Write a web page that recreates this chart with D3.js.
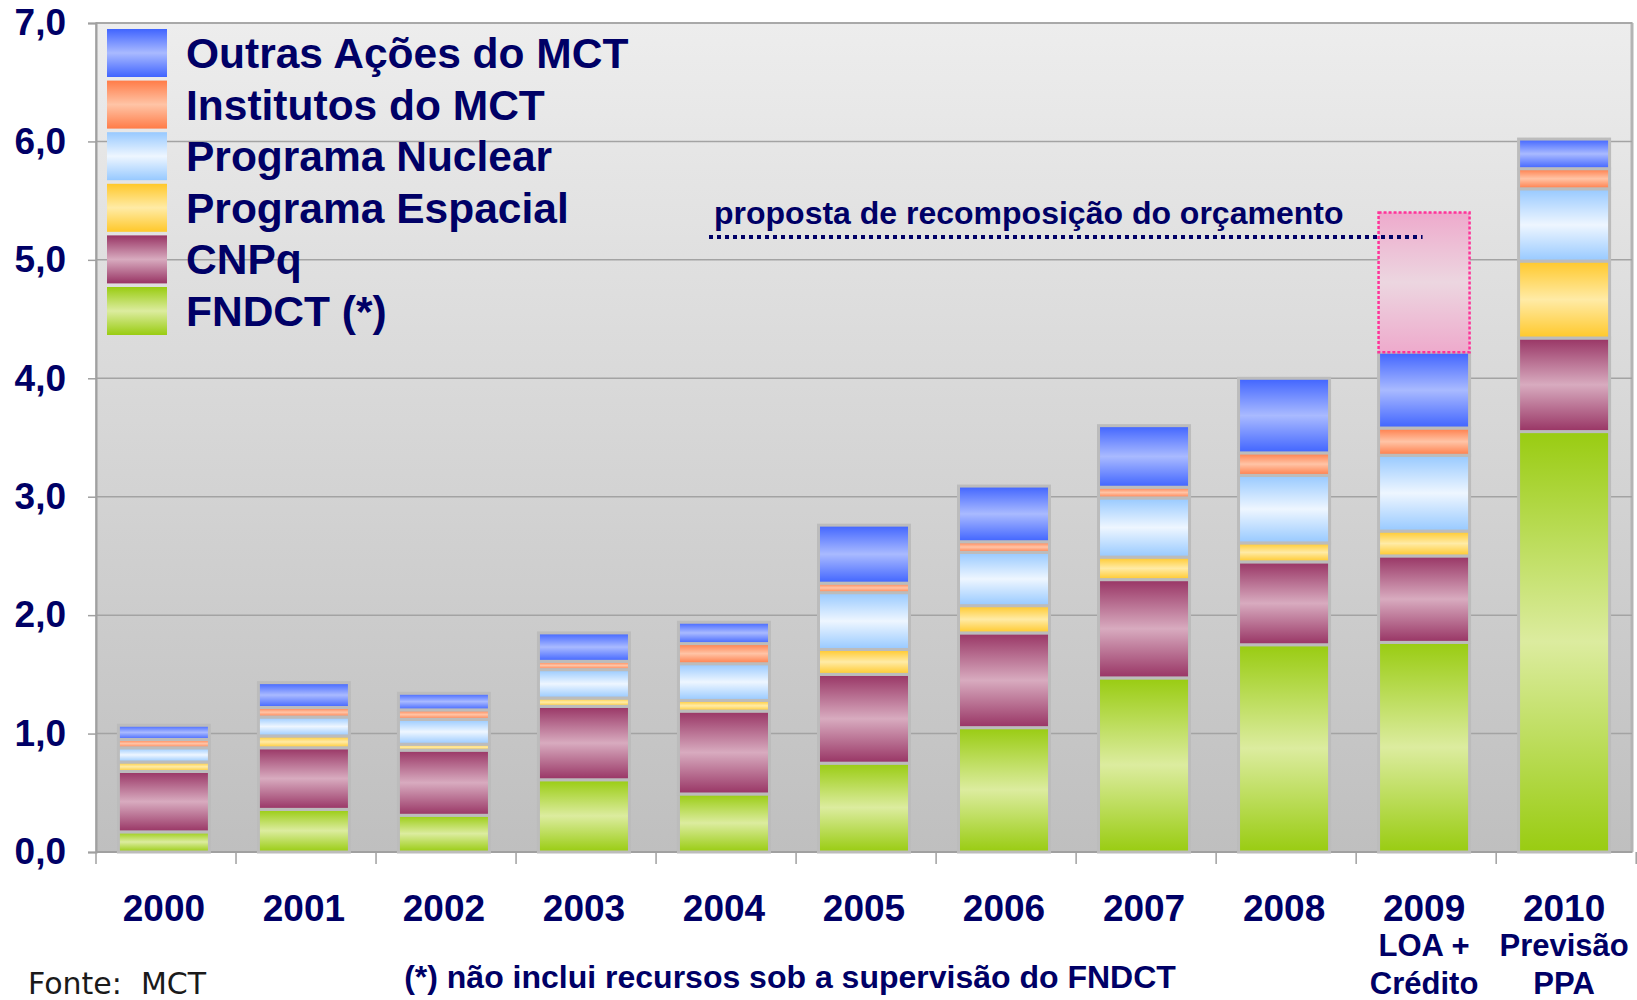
<!DOCTYPE html>
<meta charset="utf-8">
<style>
body { margin: 0; background: #fff; }
svg { display: block; }
text { font-family: "Liberation Sans", Arial, sans-serif; }
.lbl { font-weight: bold; fill: #000066; }
</style>
<body>
<script src="https://d3js.org/d3.v7.min.js"></script>
<script>

// values in R$ bilhões
var years = ["2000","2001","2002","2003","2004","2005","2006","2007","2008","2009","2010"];
var fndct      = [0.17, 0.36, 0.31, 0.61, 0.49, 0.75, 1.05, 1.47, 1.75, 1.77, 3.55];
var cnpq       = [0.51, 0.52, 0.55, 0.62, 0.70, 0.75, 0.80, 0.83, 0.70, 0.73, 0.79];
var espacial   = [0.08, 0.10, 0.05, 0.07, 0.09, 0.21, 0.23, 0.19, 0.16, 0.21, 0.65];
var nuclear    = [0.12, 0.16, 0.21, 0.24, 0.31, 0.48, 0.45, 0.50, 0.57, 0.64, 0.61];
var institutos = [0.07, 0.08, 0.08, 0.07, 0.17, 0.08, 0.09, 0.09, 0.19, 0.23, 0.17];
var outras     = [0.12, 0.21, 0.14, 0.24, 0.18, 0.49, 0.47, 0.52, 0.63, 0.64, 0.25];
var proposta   = [0, 0, 0, 0, 0, 0, 0, 0, 0, 1.18, 0];

var yTicks = [0, 1, 2, 3, 4, 5, 6, 7];
var subLabels = {"2009": ["LOA +", "Crédito"], "2010": ["Previsão", "PPA"]};

var series = [
  {key: "fndct",      name: "FNDCT (*)",           edge: "#99cc11", mid: "#dcec9f", values: fndct},
  {key: "cnpq",       name: "CNPq",                edge: "#983464", mid: "#d8abbf", values: cnpq},
  {key: "espacial",   name: "Programa Espacial",   edge: "#ffc82a", mid: "#ffeba6", values: espacial},
  {key: "nuclear",    name: "Programa Nuclear",    edge: "#97c9ff", mid: "#eef6ff", values: nuclear},
  {key: "institutos", name: "Institutos do MCT",   edge: "#ff7c48", mid: "#ffc4a6", values: institutos},
  {key: "outras",     name: "Outras Ações do MCT", edge: "#4064ff", mid: "#a9baff", values: outras},
  {key: "proposta",   name: null,                  edge: "#eeaacc", mid: "#ecd6e0", values: proposta}
];

var width = 1637, height = 1000;
var plotLeft = 96, plotRight = 1632, plotTop = 23, plotBottom = 852;

var svg = d3.select("body").append("svg")
    .attr("width", width)
    .attr("height", height);

var defs = svg.append("defs");

var bg = defs.append("linearGradient").attr("id", "plotbg")
    .attr("x1", 0).attr("y1", 0).attr("x2", 0).attr("y2", 1);
bg.append("stop").attr("offset", "0%").attr("stop-color", "#ededed");
bg.append("stop").attr("offset", "100%").attr("stop-color", "#bfbfbf");

series.forEach(function(s) {
  var g = defs.append("linearGradient").attr("id", "g-" + s.key)
      .attr("x1", 0).attr("y1", 0).attr("x2", 0).attr("y2", 1);
  g.append("stop").attr("offset", "0%").attr("stop-color", s.edge);
  g.append("stop").attr("offset", "50%").attr("stop-color", s.mid);
  g.append("stop").attr("offset", "100%").attr("stop-color", s.edge);
});

var x = d3.scaleBand()
    .domain(years)
    .range([plotLeft, plotRight])
    .paddingInner(0.35)
    .paddingOuter(0.16);

var y = d3.scaleLinear()
    .domain([0, 7])
    .range([plotBottom, plotTop]);

// plot area
svg.append("rect")
    .attr("x", plotLeft).attr("y", plotTop)
    .attr("width", plotRight - plotLeft).attr("height", plotBottom - plotTop)
    .attr("fill", "url(#plotbg)")
    .attr("stroke", "#a8a8a8")
    .attr("stroke-width", 1.5);

svg.append("line")
    .attr("x1", plotRight).attr("x2", plotRight)
    .attr("y1", plotTop).attr("y2", plotBottom)
    .attr("stroke", "#b4b4b4").attr("stroke-width", 3);

// gridlines
svg.append("g").selectAll("line")
    .data(yTicks.slice(1))
    .enter().append("line")
    .attr("x1", plotLeft).attr("x2", plotRight)
    .attr("y1", function(d) { return y(d); })
    .attr("y2", function(d) { return y(d); })
    .attr("stroke", "#a3a3a3")
    .attr("stroke-width", 1.5);

// y axis
var yAxis = svg.append("g")
    .attr("transform", "translate(" + plotLeft + ",0)")
    .call(d3.axisLeft(y).tickValues(yTicks).tickSize(8).tickPadding(22)
      .tickFormat(function(d) { return d3.format(".1f")(d).replace(".", ","); }));
yAxis.select(".domain").attr("stroke", "#a0a0a0").attr("stroke-width", 2);
yAxis.selectAll(".tick line").attr("stroke", "#a0a0a0").attr("stroke-width", 1.5);
yAxis.selectAll(".tick text")
    .attr("class", "lbl")
    .style("font-family", "'Liberation Sans', Arial, sans-serif")
    .style("font-size", "37px")
    .attr("fill", "#000066");

// x axis line and ticks at band edges
svg.append("line")
    .attr("x1", plotLeft).attr("x2", plotRight)
    .attr("y1", plotBottom).attr("y2", plotBottom)
    .attr("stroke", "#a0a0a0").attr("stroke-width", 2);

var edges = d3.range(years.length + 1).map(function(i) { return plotLeft + i * x.step(); });
svg.append("g").selectAll("line")
    .data(edges)
    .enter().append("line")
    .attr("x1", function(d) { return d; }).attr("x2", function(d) { return d; })
    .attr("y1", plotBottom).attr("y2", plotBottom + 12)
    .attr("stroke", "#a0a0a0").attr("stroke-width", 1.5);

// stacked bars
var rows = years.map(function(yr, i) {
  var r = {year: yr};
  series.forEach(function(s) { r[s.key] = s.values[i]; });
  return r;
});

var stack = d3.stack().keys(series.map(function(s) { return s.key; }));
var stacked = stack(rows);

var layers = svg.append("g").selectAll("g.layer")
    .data(stacked)
    .enter().append("g")
    .attr("class", "layer");

layers.selectAll("rect")
    .data(function(d) {
      return d.map(function(p) { p.key = d.key; return p; })
              .filter(function(p) { return p[1] - p[0] > 0; });
    })
    .enter().append("rect")
    .attr("x", function(d) { return x(d.data.year); })
    .attr("y", function(d) { return y(d[1]); })
    .attr("width", x.bandwidth())
    .attr("height", function(d) { return y(d[0]) - y(d[1]); })
    .attr("fill", function(d) { return "url(#g-" + d.key + ")"; })
    .attr("stroke", function(d) { return d.key == "proposta" ? "#ff3399" : "#bcbcbc"; })
    .attr("stroke-width", function(d) { return d.key == "proposta" ? 2.5 : 3; })
    .attr("stroke-dasharray", function(d) { return d.key == "proposta" ? "3,2" : null; });

// annotation
svg.append("text")
    .attr("class", "lbl")
    .attr("x", 714).attr("y", 224)
    .style("font-size", "32px")
    .text("proposta de recomposição do orçamento");

svg.append("line")
    .attr("x1", 709).attr("x2", x("2009") + 44)
    .attr("y1", 237).attr("y2", 237)
    .attr("stroke", "#000066")
    .attr("stroke-width", 4)
    .attr("stroke-dasharray", "4,4");

// year labels
var xl = svg.append("g").selectAll("g")
    .data(years)
    .enter().append("g")
    .attr("transform", function(d) { return "translate(" + (x(d) + x.bandwidth() / 2) + ",0)"; });

xl.append("text")
    .attr("class", "lbl")
    .attr("text-anchor", "middle")
    .attr("y", 921)
    .style("font-size", "37px")
    .text(function(d) { return d; });

xl.each(function(d) {
  var sub = subLabels[d];
  if (!sub) return;
  d3.select(this).selectAll("text.sub")
      .data(sub)
      .enter().append("text")
      .attr("class", "lbl sub")
      .attr("text-anchor", "middle")
      .attr("y", function(t, i) { return 956 + i * 38; })
      .style("font-size", "31px")
      .text(function(t) { return t; });
});

// legend
var legendData = series.filter(function(s) { return s.name; }).reverse();
var legend = svg.append("g").selectAll("g")
    .data(legendData)
    .enter().append("g")
    .attr("transform", function(d, i) { return "translate(107," + (29 + i * 51.6) + ")"; });

legend.append("rect")
    .attr("width", 60)
    .attr("height", 48)
    .attr("fill", function(d) { return "url(#g-" + d.key + ")"; });

legend.append("text")
    .attr("class", "lbl")
    .attr("x", 79)
    .attr("y", 39)
    .style("font-size", "42.5px")
    .text(function(d) { return d.name; });

// footer
svg.append("text")
    .attr("x", 28).attr("y", 994)
    .style("font-family", "'DejaVu Sans', Verdana, sans-serif")
    .style("font-size", "30px")
    .attr("fill", "#1a1a1a")
    .attr("xml:space", "preserve")
    .text("Fonte:  MCT");

svg.append("text")
    .attr("class", "lbl")
    .attr("x", 790).attr("y", 988)
    .attr("text-anchor", "middle")
    .style("font-size", "32px")
    .text("(*) não inclui recursos sob a supervisão do FNDCT");

</script>
</body>
